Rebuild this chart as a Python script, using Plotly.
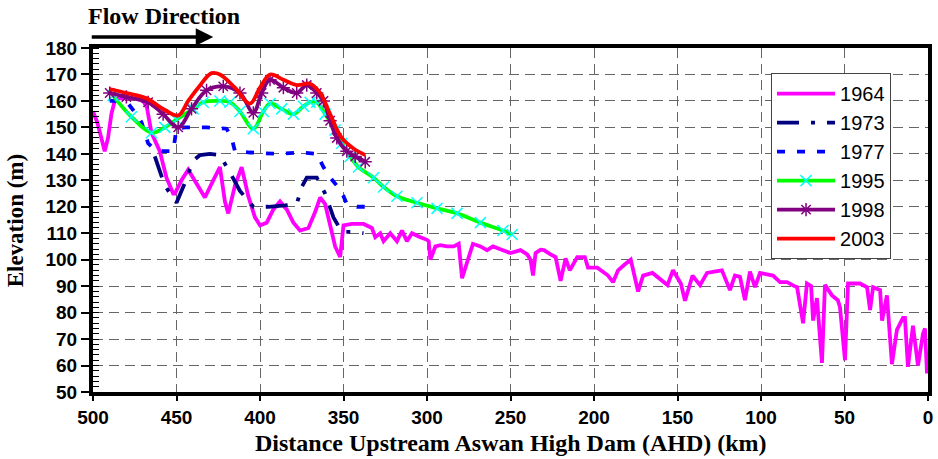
import plotly.graph_objects as go

# ---------------- data ----------------
d1964 = [500, 497.5, 495, 493, 491, 489, 487, 485, 480, 475, 470, 467.7, 465, 460, 456, 452, 451, 447, 443, 439,
         433, 428, 424, 421, 419, 415, 411, 407, 403, 400, 396, 392, 388, 384, 380, 376, 371, 367, 364, 361,
         358, 355, 352, 350, 345, 338, 333, 331, 328, 326, 322, 318, 315, 312, 309, 306, 304, 300, 299, 298,
         295, 292, 288, 284, 281, 279, 276, 272.5, 268, 264, 260.5, 257, 254.5, 250, 247, 244, 240, 238, 236.5, 235,
         232, 230, 226, 223, 220, 217, 214.5, 210, 205.5, 203.6, 198, 195, 191.6, 188.6, 185.6, 182, 178, 173.6, 170.6, 165,
         162, 156, 152.7, 150.6, 148, 145.5, 141, 136.5, 132.3, 128, 123.4, 118.6, 115.6, 112.6, 109.6, 106.6, 103.6, 100.6, 97, 92.8,
         88.6, 84.4, 80, 78.4, 74.8, 72.5, 70, 68.8, 66.5, 63.5, 61.7, 57.5, 54, 52.7, 49.7, 47.9, 44, 40.7, 36.5, 34.7,
         32.9, 30, 28.7, 27.5, 24.6, 21.6, 18.6, 15, 13.8, 12, 9, 6, 3, 1.8, 0.6, 0]
e1964 = [156, 152, 146, 141, 146, 155, 160, 161, 161, 161, 160, 157.5, 148, 141, 131, 125, 125, 130, 134, 130,
         123.5, 130, 135, 122, 117.5, 128, 135, 124, 116, 113, 114, 119, 122, 119, 114, 111, 112, 118, 123.5, 121,
         113, 105, 101, 113, 113.5, 113.5, 112, 108.5, 110, 107, 110, 107, 111, 107, 110, 109, 108.5, 107.5, 107, 100,
         105, 105.5, 105, 105, 106, 93, 99, 106, 105, 103.6, 105, 104, 103.6, 102.5, 103, 103.6, 102, 100, 94, 102.5,
         103.8, 103.6, 102, 101, 92, 100.5, 96, 101, 101, 97, 97, 95.5, 94, 91.5, 96, 98, 100, 88, 94, 95,
         93.5, 90.4, 96, 93.5, 91, 84.5, 94, 90.4, 95, 95.5, 96, 88.5, 94, 93.5, 84.7, 95.5, 89.6, 95, 94.5, 94,
         91.5, 91.5, 90, 89.6, 76, 91, 90, 77, 85.5, 61, 90.5, 86.5, 84.7, 82, 62, 91, 91, 91, 89.6, 81,
         89.6, 89, 88.5, 77, 86.5, 60.5, 73.5, 78, 78, 59.5, 75, 60, 72, 74, 57, 63]

d1973 = [463, 457, 450, 445, 440, 436, 430, 424, 418, 412, 404, 395, 385, 378, 375, 372, 366, 361, 356, 351, 345, 338]
e1973 = [139, 128, 121.5, 129, 137.5, 139.5, 140, 139.5, 133, 126, 120, 120, 120.5, 121, 127.5, 131, 131, 125, 116, 110.5, 110.5, 110]

d1977 = [490, 484, 479, 474, 471, 467, 463, 458, 452, 450, 445, 432, 420, 417, 415, 406, 390, 375, 366, 362, 358, 354, 350, 348, 342, 337]
e1977 = [160, 160, 159, 155, 152, 144, 141.5, 141, 141, 149.5, 150, 150, 149.5, 146, 141, 140.5, 140, 140.5, 140, 135, 131, 128, 124, 121, 120, 120]

d1995 = [488, 477, 465, 457, 450, 440, 434, 424, 418, 412, 404, 398, 394, 387, 380, 374, 370, 366, 361, 355, 351, 346, 341, 332, 326, 318, 306, 294, 282, 268, 254.5, 249]
e1995 = [162, 154, 148, 150, 153, 157, 159.5, 160, 159.5, 156, 149.5, 156, 159, 157, 155, 158, 159.5, 159.5, 155, 149, 144, 139, 135, 131, 127.5, 124, 121.5, 119.4, 117.5, 114, 111, 109.5]

d1998 = [490, 480, 467, 458, 449, 441, 432, 422, 412, 404, 399, 394, 386, 378, 372, 366, 362, 358, 354, 348, 343, 337]
e1998 = [163, 161.5, 159.5, 155, 150, 157, 164, 165.5, 163, 155.5, 163, 168, 165, 163, 166, 163, 160, 152.5, 146, 141, 139, 137]

d2003 = [490, 480, 468, 458, 449, 443, 437, 429, 424, 415, 406, 400, 394, 386, 378, 370, 364, 358, 351, 344, 337]
e2003 = [164.5, 163, 161, 157, 154.5, 160, 165, 170.5, 170, 165, 159, 165, 170, 168, 166, 166.5, 163, 155, 146, 142, 139.5]

x_ticks = [500, 450, 400, 350, 300, 250, 200, 150, 100, 50, 0]
y_ticks = [50, 60, 70, 80, 90, 100, 110, 120, 130, 140, 150, 160, 170, 180]

# ---------------- figure ----------------
fig = go.Figure()

fig.add_trace(go.Scatter(x=d1964, y=e1964, name="1964", mode="lines",
                         line=dict(color="#FF00FF", width=3.8)))
fig.add_trace(go.Scatter(x=d1973, y=e1973, name="1973", mode="lines",
                         line=dict(color="#000080", width=3.8, dash="22px,12px,4px,12px")))
fig.add_trace(go.Scatter(x=d1977, y=e1977, name="1977", mode="lines",
                         line=dict(color="#0000FF", width=3.8, dash="8px,12px")))
fig.add_trace(go.Scatter(x=d1995, y=e1995, name="1995", mode="lines+markers",
                         line=dict(color="#00FF00", width=3.8, shape="spline"),
                         marker=dict(symbol="x-thin", size=11, color="#00FFFF",
                                     line=dict(color="#00FFFF", width=1.5))))
fig.add_trace(go.Scatter(x=d1998, y=e1998, name="1998", mode="lines+markers",
                         line=dict(color="#800080", width=3.8, shape="spline"),
                         marker=dict(symbol="asterisk", size=11, color="#800080",
                                     line=dict(color="#800080", width=1.5))))
fig.add_trace(go.Scatter(x=d2003, y=e2003, name="2003", mode="lines",
                         line=dict(color="#FF0000", width=3.8, shape="spline")))

grid = dict(showgrid=True, gridcolor="#666666", gridwidth=1.4, griddash="10px,6px")

fig.update_xaxes(range=[500, 0], tickvals=x_ticks, ticktext=[str(v) for v in x_ticks],
                 showline=True, linecolor="black", linewidth=4, mirror=True,
                 ticks="outside", ticklen=5, tickwidth=1.5, tickcolor="black",
                 tickfont=dict(family="Arial", size=19, color="black", weight="bold"),
                 zeroline=False, automargin=False, **grid)
fig.update_yaxes(range=[50, 180], tickvals=y_ticks, ticktext=[str(v) for v in y_ticks],
                 showline=True, linecolor="black", linewidth=4, mirror=True,
                 ticks="outside", ticklen=8, tickwidth=1.5, tickcolor="black",
                 minor=dict(dtick=2, ticks="inside", ticklen=6, tickcolor="black", tickwidth=1, showgrid=False),
                 tickfont=dict(family="Arial", size=19, color="black", weight="bold"),
                 zeroline=False, automargin=False, **grid)

serif = "Liberation Serif, Times New Roman"
fig.update_layout(
    width=938, height=459,
    margin=dict(l=93, r=10, t=48, b=67),
    plot_bgcolor="white", paper_bgcolor="white",
    showlegend=True,
    legend=dict(x=0.812, y=0.927, xanchor="left", yanchor="top",
                bgcolor="white", bordercolor="#444", borderwidth=1,
                font=dict(family="Arial", size=20, color="black"),
                tracegroupgap=0, itemwidth=58),
    annotations=[
        dict(text="<b>Elevation (m)</b>", xref="paper", yref="paper", x=-0.093, y=0.5,
             textangle=-90, showarrow=False, xanchor="center", yanchor="middle",
             font=dict(family=serif, size=23, color="black")),
        dict(text="<b>Distance Upstream Aswan High Dam (AHD) (km)</b>", xref="paper", yref="paper",
             x=0.5, y=-0.148, showarrow=False, xanchor="center", yanchor="middle",
             font=dict(family=serif, size=24, color="black")),
        dict(text="<b>Flow Direction</b>", xref="paper", yref="paper", x=-0.008, y=1.093,
             showarrow=False, xanchor="left", yanchor="middle",
             font=dict(family=serif, size=24, color="black")),
        dict(text="", xref="paper", yref="paper", x=0.144, y=1.032,
             axref="pixel", ayref="pixel", ax=-123, ay=0,
             showarrow=True, arrowhead=2, arrowsize=1, arrowwidth=3.5, arrowcolor="black"),
    ],
)

fig.write_html("out.html", config={"displayModeBar": False},
               post_script="document.body.style.margin='0';document.body.style.padding='0';")
